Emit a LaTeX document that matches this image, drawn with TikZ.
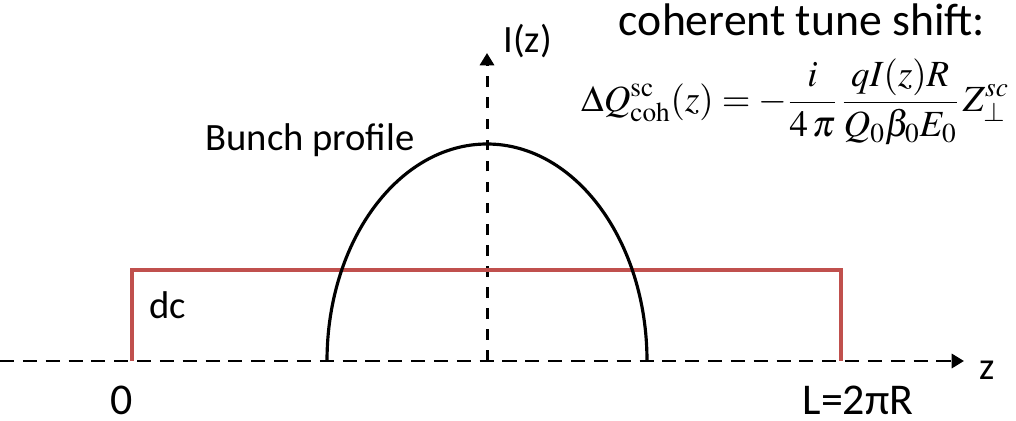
\documentclass[tikz,border=0pt]{standalone}
\usepackage{mathptmx}
\usepackage{fontspec}
\setmainfont{Carlito}
\usetikzlibrary{arrows.meta}
\definecolor{dcred}{HTML}{C0504D}
\begin{document}
\begin{tikzpicture}[x=0.02cm,y=0.02cm,
  axis/.style={line width=1.7pt, dash pattern=on 8pt off 5pt, -{Triangle[length=7pt,width=8pt]}},
  vaxis/.style={line width=1.7pt, dash pattern=on 6pt off 6pt, -{Triangle[length=7pt,width=8pt]}},
  dcline/.style={line width=2.3pt, dcred},
  profile/.style={line width=1.8pt, black},
  lbl/.style={inner sep=0pt, font=\fontsize{22}{26}\selectfont},
  ticklbl/.style={inner sep=0pt, anchor=base, font=\fontsize{25}{30}\selectfont}]
\useasboundingbox (0,0) rectangle (1016,420);
% coordinates
\coordinate (hstart) at (0,59);
\coordinate (hend) at (964,59);
\coordinate (vstart) at (487,59);
\coordinate (vend) at (487,367);
\coordinate (d1) at (132,59);
\coordinate (d2) at (132,150);
\coordinate (d3) at (841,150);
\coordinate (d4) at (841,59);
\coordinate (p1) at (327,59);
% axes
\draw[axis] (hstart) -- (hend);
\draw[vaxis] (vstart) -- (vend);
% dc beam
\draw[dcline, line join=miter] (d1) -- (d2) -- (d3) -- (d4);
% bunch profile
\draw[profile] (p1) arc[start angle=180, end angle=0, x radius=160, y radius=217];
% labels
\node[lbl, anchor=west] (iz) at (503,379) {I(z)};
\node[lbl, anchor=base, font=\fontsize{26}{31}\selectfont] (cts) at (802,384) {coherent tune shift:};
\node[inner sep=0pt, font=\fontsize{21}{25}\selectfont] (formula) at (795,318)
  {$\displaystyle \Delta Q^{\mathrm{sc}}_{\mathrm{coh}}(z) = -\frac{i}{4\,\pi}\,\frac{qI(z)R}{Q_0\beta_0E_0}\,Z^{sc}_{\perp}$};
\node[lbl] (bp) at (310,280) {Bunch profile};
\node[lbl] (dc) at (168,115) {dc};
\node[ticklbl] (zero) at (122,6) {0};
\node[ticklbl] (len) at (858,6) {L=2πR};
\node[lbl] (zl) at (987,50) {z};
\end{tikzpicture}
\end{document}
